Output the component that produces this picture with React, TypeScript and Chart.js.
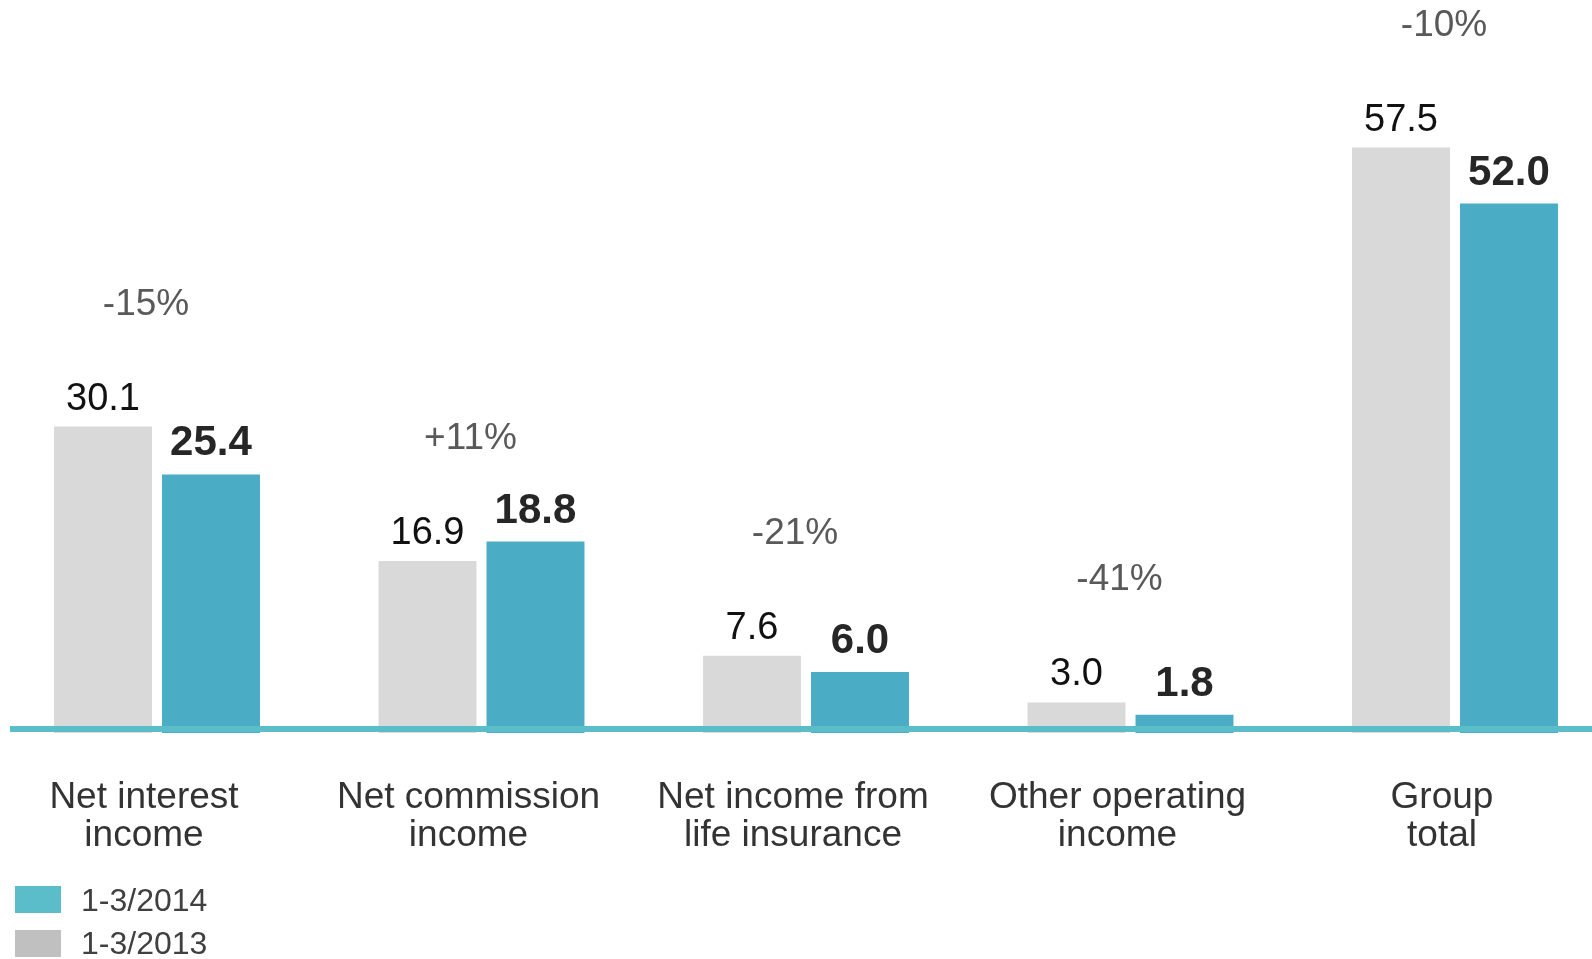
import { useEffect, useRef } from "react";
import { Chart, registerables } from "chart.js";

Chart.register(...registerables);

const categoryLines = [
  ["Net interest", "income"],
  ["Net commission", "income"],
  ["Net income from", "life insurance"],
  ["Other operating", "income"],
  ["Group", "total"],
];
const categories = categoryLines.map((l) => l.join(" "));
const series2013 = [30.1, 16.9, 7.6, 3.0, 57.5];
const series2014 = [25.4, 18.8, 6.0, 1.8, 52.0];
const changeLabels = ["-15%", "+11%", "-21%", "-41%", "-10%"];
const seriesNames = ["1-3/2013", "1-3/2014"];

const FONT = "'Liberation Sans', Arial, sans-serif";
const GRAY = "#d9d9d9";
const TEAL = "#4bacc6";
const LINE_TEAL = "#5bbdca";
const LEGEND_GRAY = "#c0c0c0";

// canvas is shifted left by this many pixels inside the page
const SHIFT = 10;
const CANVAS_W = 1640;

const overlayPlugin = {
  id: "overlay",
  afterDatasetsDraw(chart: any) {
    const ctx = chart.ctx as CanvasRenderingContext2D;
    const area = chart.chartArea;
    const m0 = chart.getDatasetMeta(0);
    const m1 = chart.getDatasetMeta(1);
    const xScale = chart.scales.x;
    ctx.save();

    // axis line
    ctx.fillStyle = LINE_TEAL;
    ctx.fillRect(10 + SHIFT, area.bottom - 7, chart.width - 10 - SHIFT, 6);

    ctx.textAlign = "center";
    ctx.textBaseline = "alphabetic";

    categories.forEach((_, i) => {
      const g = m0.data[i];
      const t = m1.data[i];
      // values
      ctx.fillStyle = "#111111";
      ctx.font = `38px ${FONT}`;
      ctx.fillText(series2013[i].toFixed(1), g.x, g.y - 17);
      ctx.fillStyle = "#262626";
      ctx.font = `bold 42px ${FONT}`;
      ctx.fillText(series2014[i].toFixed(1), t.x, t.y - 19);
      // change labels
      const cx = xScale.getPixelForValue(i);
      ctx.fillStyle = "#595959";
      ctx.font = `37px ${FONT}`;
      ctx.fillText(changeLabels[i], cx - 11, g.y - 112);
      // category labels
      ctx.fillStyle = "#333333";
      ctx.font = `37px ${FONT}`;
      categoryLines[i].forEach((line, k) => {
        ctx.fillText(line, cx - 13, 808 + k * 38);
      });
    });

    // legend (2014 first, then 2013)
    ctx.textAlign = "left";
    ctx.font = `32px ${FONT}`;
    ctx.fillStyle = LINE_TEAL;
    ctx.fillRect(15 + SHIFT, 886, 46, 27);
    ctx.fillStyle = LEGEND_GRAY;
    ctx.fillRect(15 + SHIFT, 930, 46, 27);
    ctx.fillStyle = "#404040";
    ctx.fillText(seriesNames[1], 81 + SHIFT, 911);
    ctx.fillText(seriesNames[0], 81 + SHIFT, 954);

    ctx.restore();
  },
};

export default function App() {
  const ref = useRef<HTMLCanvasElement | null>(null);

  useEffect(() => {
    document.body.style.margin = "0";
    const canvas = ref.current!;
    const chart = new Chart(canvas, {
      type: "bar",
      data: {
        labels: categories,
        datasets: [
          {
            label: seriesNames[0],
            data: series2013,
            backgroundColor: GRAY,
            categoryPercentage: 0.6656,
            barPercentage: 0.907,
          },
          {
            label: seriesNames[1],
            data: series2014,
            backgroundColor: TEAL,
            categoryPercentage: 0.6656,
            barPercentage: 0.907,
          },
        ],
      },
      options: {
        responsive: false,
        animation: false,
        devicePixelRatio: 1,
        layout: { padding: { left: 4.75, right: 12.75, top: 0, bottom: 226 } },
        plugins: {
          legend: { display: false },
          tooltip: { enabled: false },
        },
        scales: {
          x: { display: false, grid: { display: false } },
          y: { display: false, min: 0, max: 72, grid: { display: false } },
        },
      },
      plugins: [overlayPlugin],
    });
    return () => chart.destroy();
  }, []);

  return (
    <div style={{ position: "fixed", left: 0, top: 0, width: 1592, height: 959, background: "#fff", overflow: "hidden" }}>
      <canvas
        ref={ref}
        width={CANVAS_W}
        height={959}
        style={{ position: "absolute", left: -SHIFT, top: 0, display: "block", width: CANVAS_W, height: 959 }}
      />
    </div>
  );
}
